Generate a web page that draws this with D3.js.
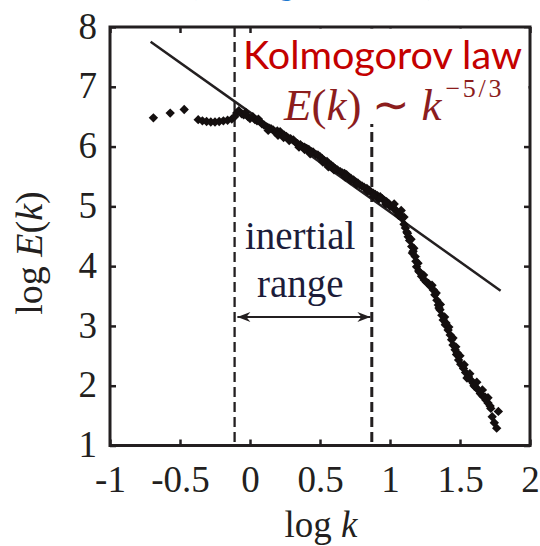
<!DOCTYPE html>
<html>
<head>
<meta charset="utf-8">
<script src="https://cdn.jsdelivr.net/npm/d3@7"></script>
<style>
  body { margin: 0; background: #fff; }
</style>
</head>
<body>
<svg></svg>
<script>
// spectrum points (log k, log E(k))
const specX = [
  -0.69, -0.57, -0.47,
  -0.37, -0.34, -0.31, -0.28, -0.25, -0.22, -0.19, -0.16, -0.13, -0.11, -0.095, -0.08, -0.06, -0.045, -0.03, -0.015,
  0.0, 0.02, 0.035, 0.05, 0.07, 0.085, 0.1, 0.12, 0.135, 0.15, 0.165, 0.18, 0.195, 0.215, 0.23, 0.245, 0.26, 0.275, 0.29,
  0.31, 0.325, 0.34, 0.36, 0.375, 0.39, 0.405, 0.42, 0.435, 0.45, 0.47, 0.485, 0.5, 0.515, 0.53, 0.55, 0.565, 0.58,
  0.595, 0.61, 0.625, 0.645, 0.66, 0.675, 0.69, 0.705, 0.72, 0.74, 0.755, 0.77, 0.785, 0.8, 0.815, 0.835, 0.85, 0.865,
  0.88, 0.895, 0.91, 0.93, 0.945, 0.96, 0.975, 0.99, 1.005, 1.025, 1.04, 1.055, 1.07, 1.085, 1.1, 1.11, 1.12, 1.13,
  1.14, 1.155, 1.165, 1.18, 1.185, 1.19, 1.205, 1.225, 1.245, 1.275, 1.29, 1.31, 1.32, 1.335, 1.345, 1.357, 1.37, 1.38,
  1.395, 1.415, 1.43, 1.44, 1.45, 1.465, 1.475, 1.49, 1.505, 1.525, 1.54, 1.56, 1.575, 1.595, 1.61, 1.63, 1.645, 1.665,
  1.685, 1.7, 1.715, 1.774, 1.73, 1.745, 1.762,
  0.13, 0.2, 0.28, 0.35, 0.43, 0.52, 0.6, 0.68, 0.76, 0.84, 0.92, 1.0, 1.03, 1.08, 1.1,
  1.15, 1.17, 1.2, 1.24, 1.3, 1.33, 1.36, 1.39, 1.42, 1.45, 1.47, 1.5, 1.53, 1.57, 1.62, 1.66, 1.7, 1.72,
  0.06, 0.24, 0.39, 0.56, 0.72, 0.88, 0.97, 1.06, 1.125, 1.16, 1.21, 1.26, 1.35, 1.4, 1.48, 1.55, 1.6, 1.68
];
const specY = [
  6.48, 6.56, 6.62,
  6.45, 6.43, 6.42, 6.41, 6.41, 6.42, 6.43, 6.44, 6.46, 6.5, 6.56, 6.6, 6.55, 6.53, 6.57, 6.5,
  6.47, 6.5, 6.45, 6.43, 6.42, 6.38, 6.36, 6.33, 6.31, 6.3, 6.28, 6.24, 6.26, 6.25, 6.2, 6.19, 6.17, 6.14, 6.13,
  6.11, 6.07, 6.05, 6.03, 6.0, 5.99, 5.97, 5.95, 5.92, 5.91, 5.87, 5.86, 5.83, 5.8, 5.77, 5.75, 5.71, 5.69,
  5.66, 5.63, 5.61, 5.58, 5.56, 5.55, 5.53, 5.49, 5.47, 5.44, 5.41, 5.39, 5.36, 5.34, 5.32, 5.3, 5.27, 5.24,
  5.22, 5.2, 5.18, 5.16, 5.13, 5.1, 5.08, 5.05, 5.01, 4.97, 4.94, 4.9, 4.86, 4.8, 4.7, 4.64, 4.57, 4.49,
  4.43, 4.33, 4.25, 4.16, 4.08, 3.99, 3.92, 3.83, 3.77, 3.71, 3.66, 3.6, 3.52, 3.43, 3.35, 3.27, 3.18, 3.1,
  3.02, 2.93, 2.85, 2.77, 2.68, 2.6, 2.52, 2.43, 2.36, 2.29, 2.22, 2.15, 2.1, 2.04, 1.98, 1.93, 1.87, 1.82,
  1.76, 1.71, 1.66, 1.57, 1.48, 1.38, 1.29,
  6.27, 6.19, 6.1, 5.99, 5.88, 5.74, 5.61, 5.49, 5.37, 5.25, 5.12, 5.0, 5.04, 4.93, 4.82,
  4.45, 4.3, 4.05, 3.85, 3.68, 3.55, 3.36, 3.15, 2.98, 2.8, 2.65, 2.5, 2.35, 2.2, 2.06, 1.93, 1.8, 1.62,
  6.46, 6.15, 5.95, 5.66, 5.43, 5.17, 5.04, 4.85, 4.55, 4.22, 3.9, 3.73, 3.3, 3.05, 2.55, 2.13, 2.0, 1.81
];

// k^-5/3 fit line end points
const fitX = [-0.71, 1.79];
const fitY = [7.755, 3.59];

// inertial range bounds
const rangeX = [-0.11, 0.87];
const arrowX = [-0.09, 0.86];
const arrowY = 3.15;

const xTicks = [-1, -0.5, 0, 0.5, 1, 1.5, 2];
const yTicks = [1, 2, 3, 4, 5, 6, 7, 8];

const svg = d3.select("svg").attr("width", 540).attr("height", 546);

const x = d3.scaleLinear().domain([-1, 2]).range([110, 530]);
const y = d3.scaleLinear().domain([1, 8]).range([445.5, 27]);

const serif = "'Liberation Serif', 'Times New Roman', serif";
const ink = "#231f20";

// cut-off blue title at the very top
svg.append("text")
  .attr("x", 312).attr("y", -5)
  .attr("text-anchor", "middle")
  .attr("font-family", "Lato, sans-serif")
  .attr("font-size", 34)
  .attr("fill", "#1c78cf")
  .attr("textLength", 245)
  .text("(Kolmogorov, 1941)");

// axes, ticks pointing inward on all four sides
function styleAxis(g) {
  g.select(".domain").remove();
  g.selectAll(".tick line").attr("stroke", ink).attr("stroke-width", 2.5);
  g.selectAll("text")
    .attr("font-family", serif)
    .attr("font-size", 37)
    .attr("fill", ink);
}

svg.append("g")
  .attr("transform", `translate(0,${y(1)})`)
  .call(d3.axisBottom(x).tickValues(xTicks).tickSizeInner(-6).tickSizeOuter(0)
    .tickFormat(d => String(d)))
  .call(styleAxis)
  .call(g => g.selectAll("text").attr("y", 46).attr("dy", 0));

svg.append("g")
  .attr("transform", `translate(0,${y(8)})`)
  .call(d3.axisTop(x).tickValues(xTicks).tickSizeInner(-6).tickSizeOuter(0).tickFormat(""))
  .call(styleAxis);

svg.append("g")
  .attr("transform", `translate(${x(-1)},0)`)
  .call(d3.axisLeft(y).tickValues(yTicks).tickSizeInner(-6).tickSizeOuter(0)
    .tickFormat(d => String(d)))
  .call(styleAxis)
  .call(g => g.selectAll("text").attr("x", -13).attr("dy", "0.3em"));

svg.append("g")
  .attr("transform", `translate(${x(2)},0)`)
  .call(d3.axisRight(y).tickValues(yTicks).tickSizeInner(-6).tickSizeOuter(0).tickFormat(""))
  .call(styleAxis);

// dashed inertial range limits
svg.selectAll(".range-line")
  .data(rangeX)
  .join("line")
  .attr("x1", d => x(d)).attr("x2", d => x(d))
  .attr("y1", y(8)).attr("y2", y(1))
  .attr("stroke", ink)
  .attr("stroke-width", (d, i) => i === 0 ? 2.3 : 3)
  .attr("stroke-dasharray", "10,5");

// fit line
svg.append("line")
  .attr("x1", x(fitX[0])).attr("y1", y(fitY[0]))
  .attr("x2", x(fitX[1])).attr("y2", y(fitY[1]))
  .attr("stroke", ink)
  .attr("stroke-width", 2.5);

// data diamonds
const diamond = d3.symbol().type(d3.symbolSquare).size(44);
svg.append("g")
  .selectAll("path")
  .data(specX.map((d, i) => [d, specY[i]]))
  .join("path")
  .attr("d", diamond)
  .attr("transform", d => `translate(${x(d[0])},${y(d[1])}) rotate(45)`)
  .attr("fill", "#140f0f");

// white label boxes
svg.append("rect")
  .attr("x", 252).attr("y", 28.5).attr("width", 276.5).attr("height", 49)
  .attr("fill", "#fff");
svg.append("rect")
  .attr("x", 278).attr("y", 77).attr("width", 250.5).attr("height", 47)
  .attr("fill", "#fff");

// Kolmogorov label
svg.append("text")
  .attr("x", 243).attr("y", 69)
  .attr("font-family", "Lato, sans-serif")
  .attr("font-size", 38)
  .attr("fill", "#c40000")
  .attr("textLength", 279)
  .attr("lengthAdjust", "spacingAndGlyphs")
  .text("Kolmogorov law");

const formula = svg.append("text")
  .attr("x", 284).attr("y", 120)
  .attr("font-family", serif)
  .attr("font-size", 45)
  .attr("fill", "#8c1d1d");
formula.append("tspan").attr("font-style", "italic").text("E");
formula.append("tspan").text("(");
formula.append("tspan").attr("font-style", "italic").text("k");
formula.append("tspan").text(")");
formula.append("tspan").attr("dx", 11).text("∼");
formula.append("tspan").attr("dx", 11).attr("font-style", "italic").text("k");
formula.append("tspan").attr("dy", -23).attr("dx", 4).attr("font-size", 26)
  .attr("textLength", 56).attr("lengthAdjust", "spacing").text("−5/3");

// inertial range annotation
const mid = (rangeX[0] + rangeX[1]) / 2;
svg.append("text")
  .attr("x", x(mid) - 3).attr("y", 249)
  .attr("text-anchor", "middle")
  .attr("font-family", serif).attr("font-size", 39)
  .attr("fill", "#1c1c3a")
  .text("inertial");
svg.append("text")
  .attr("x", x(mid) - 3).attr("y", 297)
  .attr("text-anchor", "middle")
  .attr("font-family", serif).attr("font-size", 39)
  .attr("fill", "#1c1c3a")
  .text("range");

const defs = svg.append("defs");
defs.append("marker")
  .attr("id", "head")
  .attr("viewBox", "-14 -6 15 12")
  .attr("refX", 0).attr("refY", 0)
  .attr("markerWidth", 15).attr("markerHeight", 12)
  .attr("markerUnits", "userSpaceOnUse")
  .attr("orient", "auto-start-reverse")
  .append("path")
  .attr("d", "M0,0 L-13,-5 L-9,0 L-13,5 Z")
  .attr("fill", ink);

svg.append("line")
  .attr("x1", x(arrowX[0])).attr("x2", x(arrowX[1]))
  .attr("y1", y(arrowY)).attr("y2", y(arrowY))
  .attr("stroke", ink).attr("stroke-width", 2)
  .attr("marker-start", "url(#head)")
  .attr("marker-end", "url(#head)");

// frame
svg.append("rect")
  .attr("x", x(-1)).attr("y", y(8))
  .attr("width", x(2) - x(-1)).attr("height", y(1) - y(8))
  .attr("fill", "none")
  .attr("stroke", ink)
  .attr("stroke-width", 3);

// axis titles
const xt = svg.append("text")
  .attr("x", 321).attr("y", 537)
  .attr("text-anchor", "middle")
  .attr("font-family", serif).attr("font-size", 37)
  .attr("fill", ink);
xt.append("tspan").text("log ");
xt.append("tspan").attr("font-style", "italic").text("k");

const yt = svg.append("text")
  .attr("transform", "translate(42,253) rotate(-90)")
  .attr("text-anchor", "middle")
  .attr("font-family", serif).attr("font-size", 38)
  .attr("fill", ink);
yt.append("tspan").text("log ");
yt.append("tspan").attr("font-style", "italic").text("E");
yt.append("tspan").text("(");
yt.append("tspan").attr("font-style", "italic").text("k");
yt.append("tspan").text(")");
</script>
</body>
</html>
